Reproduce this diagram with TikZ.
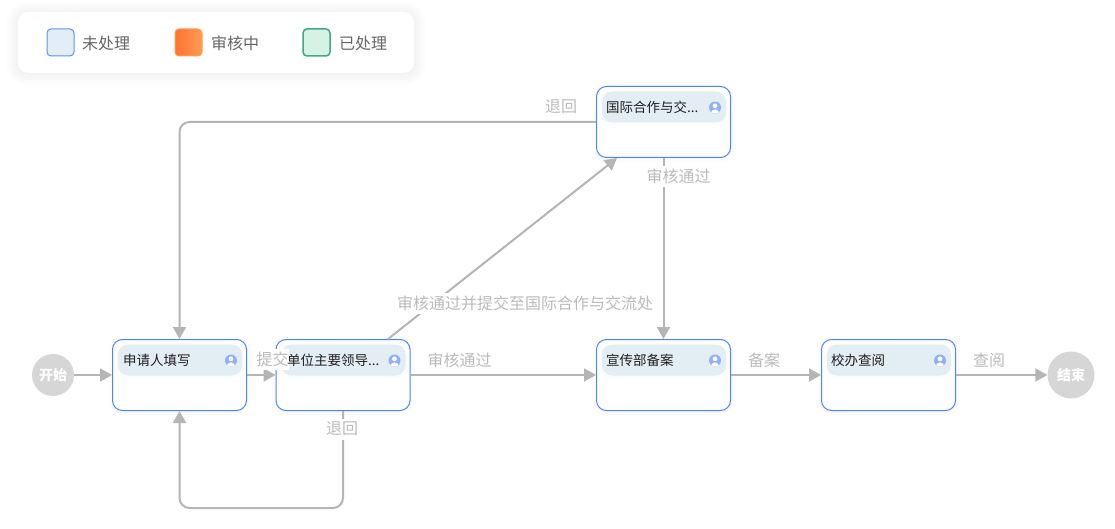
\documentclass[tikz,border=0pt]{standalone}
\usepackage{fontspec}
\setmainfont{Noto Sans CJK SC}
\usetikzlibrary{arrows.meta,calc}
\definecolor{edgegray}{HTML}{B5B5B5}
\definecolor{labelgray}{HTML}{BBBBBB}
\definecolor{legendtext}{HTML}{666666}
\definecolor{nodeblue}{HTML}{4A86F0}
\definecolor{headfill}{HTML}{E3EDF4}
\definecolor{iconblue}{HTML}{8FB0FB}
\definecolor{termgray}{HTML}{D6D6D6}
\definecolor{orangeA}{HTML}{FF7230}
\definecolor{orangeB}{HTML}{FF9C55}
\definecolor{legendgreen}{HTML}{3FA888}
\definecolor{greenfill}{HTML}{D5F2E4}
\tikzset{
  flowedge/.style={draw=edgegray,line width=2pt,rounded corners=10pt,-{Triangle[length=12pt,width=13pt]}},
  flowbox/.style={draw=nodeblue,line width=1pt,fill=white,rounded corners=10pt,minimum width=134pt,minimum height=71pt,inner sep=0pt},
  headbox/.style={fill=headfill,rounded corners=10pt,minimum width=124pt,minimum height=31pt,inner sep=0pt},
  headtext/.style={anchor=west,font=\fontsize{13.5}{14}\selectfont,text=black!88,inner sep=0pt},
  edgelabel/.style={font=\fontsize{16}{16}\selectfont,text=labelgray,fill=white,inner sep=0pt,minimum height=21pt},
  legendlabel/.style={anchor=west,font=\fontsize{16}{16}\selectfont,text=legendtext,inner sep=0pt},
  swatch/.style={minimum width=27pt,minimum height=27pt,inner sep=0pt,rounded corners=4pt},
  terminal/.style={circle,fill=termgray,inner sep=0pt,text=white,font=\bfseries\fontsize{14}{14}\selectfont},
}
\newcommand{\softglow}[6]{%
  \foreach \gi in {1,...,#6}{
    \fill[black,opacity=0.0035,rounded corners=#5pt+\gi pt]
      ($(#1,#2)+(-\gi,-\gi+1)$) rectangle ($(#3,#4)+(\gi,\gi+1)$);
  }}
\newcommand{\flowcard}[3]{%
  \softglow{#2-67}{#3-35.5}{#2+67}{#3+35.5}{10}{5}
  \node[flowbox] (#1) at (#2,#3) {};
}
\newcommand{\flowhead}[3]{%
  \softglow{#2-61.5}{#3-30.5}{#2+62.5}{#3+0.5}{10}{3}
  \node[headbox] (#1h) at (#2+0.5,#3-15) {};
  \node[circle,fill=iconblue,minimum size=12pt,inner sep=0pt] (#1i) at (#2+51.5,#3-14.5) {};
  \begin{scope}
    \clip (#1i) circle (6pt);
    \fill[white] ($(#1i)+(0,-1.7)$) circle (2.4pt);
    \fill[white] ($(#1i)+(0,6.5)$) ellipse (4.3pt and 4.7pt);
  \end{scope}
}
\begin{document}
\begin{tikzpicture}[x=1pt,y=-1pt]
\useasboundingbox (0,0) rectangle (1115,529);
\fill[white] (0,0) rectangle (1115,529);
% legend
\softglow{18}{12}{414}{73}{10}{12}
\node[fill=white,rounded corners=10pt,minimum width=396pt,minimum height=61pt,inner sep=0pt] (legend) at (216,42.5) {};
\node[swatch,draw=nodeblue!90,line width=1pt,fill=headfill] (sw1) at (60.5,42.5) {};
\node[legendlabel] (lg1) at (82,43.5) {未处理};
\node[swatch,left color=orangeA,right color=orangeB,draw=orangeB,line width=1pt] (sw2) at (188.5,42.5) {};
\node[legendlabel] (lg2) at (211,43.5) {审核中};
\node[swatch,draw=legendgreen,line width=1.5pt,fill=greenfill] (sw3) at (316.5,42.5) {};
\node[legendlabel] (lg3) at (339,43.5) {已处理};
% terminals
\node[terminal,minimum size=42pt] (start) at (53,375) {开始};
\node[terminal,minimum size=47pt] (end) at (1071,375) {结束};
% cards
\flowcard{n1}{179.5}{375}
\flowcard{n2}{343}{375}
\flowcard{n3}{663.5}{122}
\flowcard{n4}{663.5}{375}
\flowcard{n5}{888.5}{375}
% edges
\draw[flowedge] (start) -- (n1);
\draw[flowedge] (n1) -- (n2);
\draw[flowedge] (n2) -- (n4);
\draw[flowedge] (n4) -- (n5);
\draw[flowedge] (n5) -- (end);
\draw[flowedge] (n3) -- (n4);
\draw[flowedge] ($(n2.north)+(45,0)$) -- ($(n3.south west)+(21,0)$);
\draw[flowedge] (n3.west) -| (n1.north);
\draw[flowedge] (n2.south) |- (n1.south |- 0,508) -- (n1.south);
% labels
\node[edgelabel] (l1) at (561,107) {退回};
\node[edgelabel] (l2) at (678.5,176.5) {审核通过};
\node[edgelabel] (l3) at (525,303) {审核通过并提交至国际合作与交流处};
\node[edgelabel] (l4) at (459.5,360) {审核通过};
\node[edgelabel] (l5) at (764,360) {备案};
\node[edgelabel] (l6) at (989,360) {查阅};
\node[edgelabel] (l7) at (342,429) {退回};
% card headers
\flowhead{n1}{179.5}{375}
\flowhead{n2}{343}{375}
\flowhead{n3}{663.5}{122}
\flowhead{n4}{663.5}{375}
\flowhead{n5}{888.5}{375}
\node[edgelabel] (l8) at (272.5,359) {提交};
\node[headtext] (t1) at (123,360.5) {申请人填写};
\node[headtext] (t2) at (287,360.5) {单位主要领导...};
\node[headtext] (t3) at (606,107.5) {国际合作与交...};
\node[headtext] (t4) at (606,360.5) {宣传部备案};
\node[headtext] (t5) at (831,360.5) {校办查阅};
\end{tikzpicture}
\end{document}
